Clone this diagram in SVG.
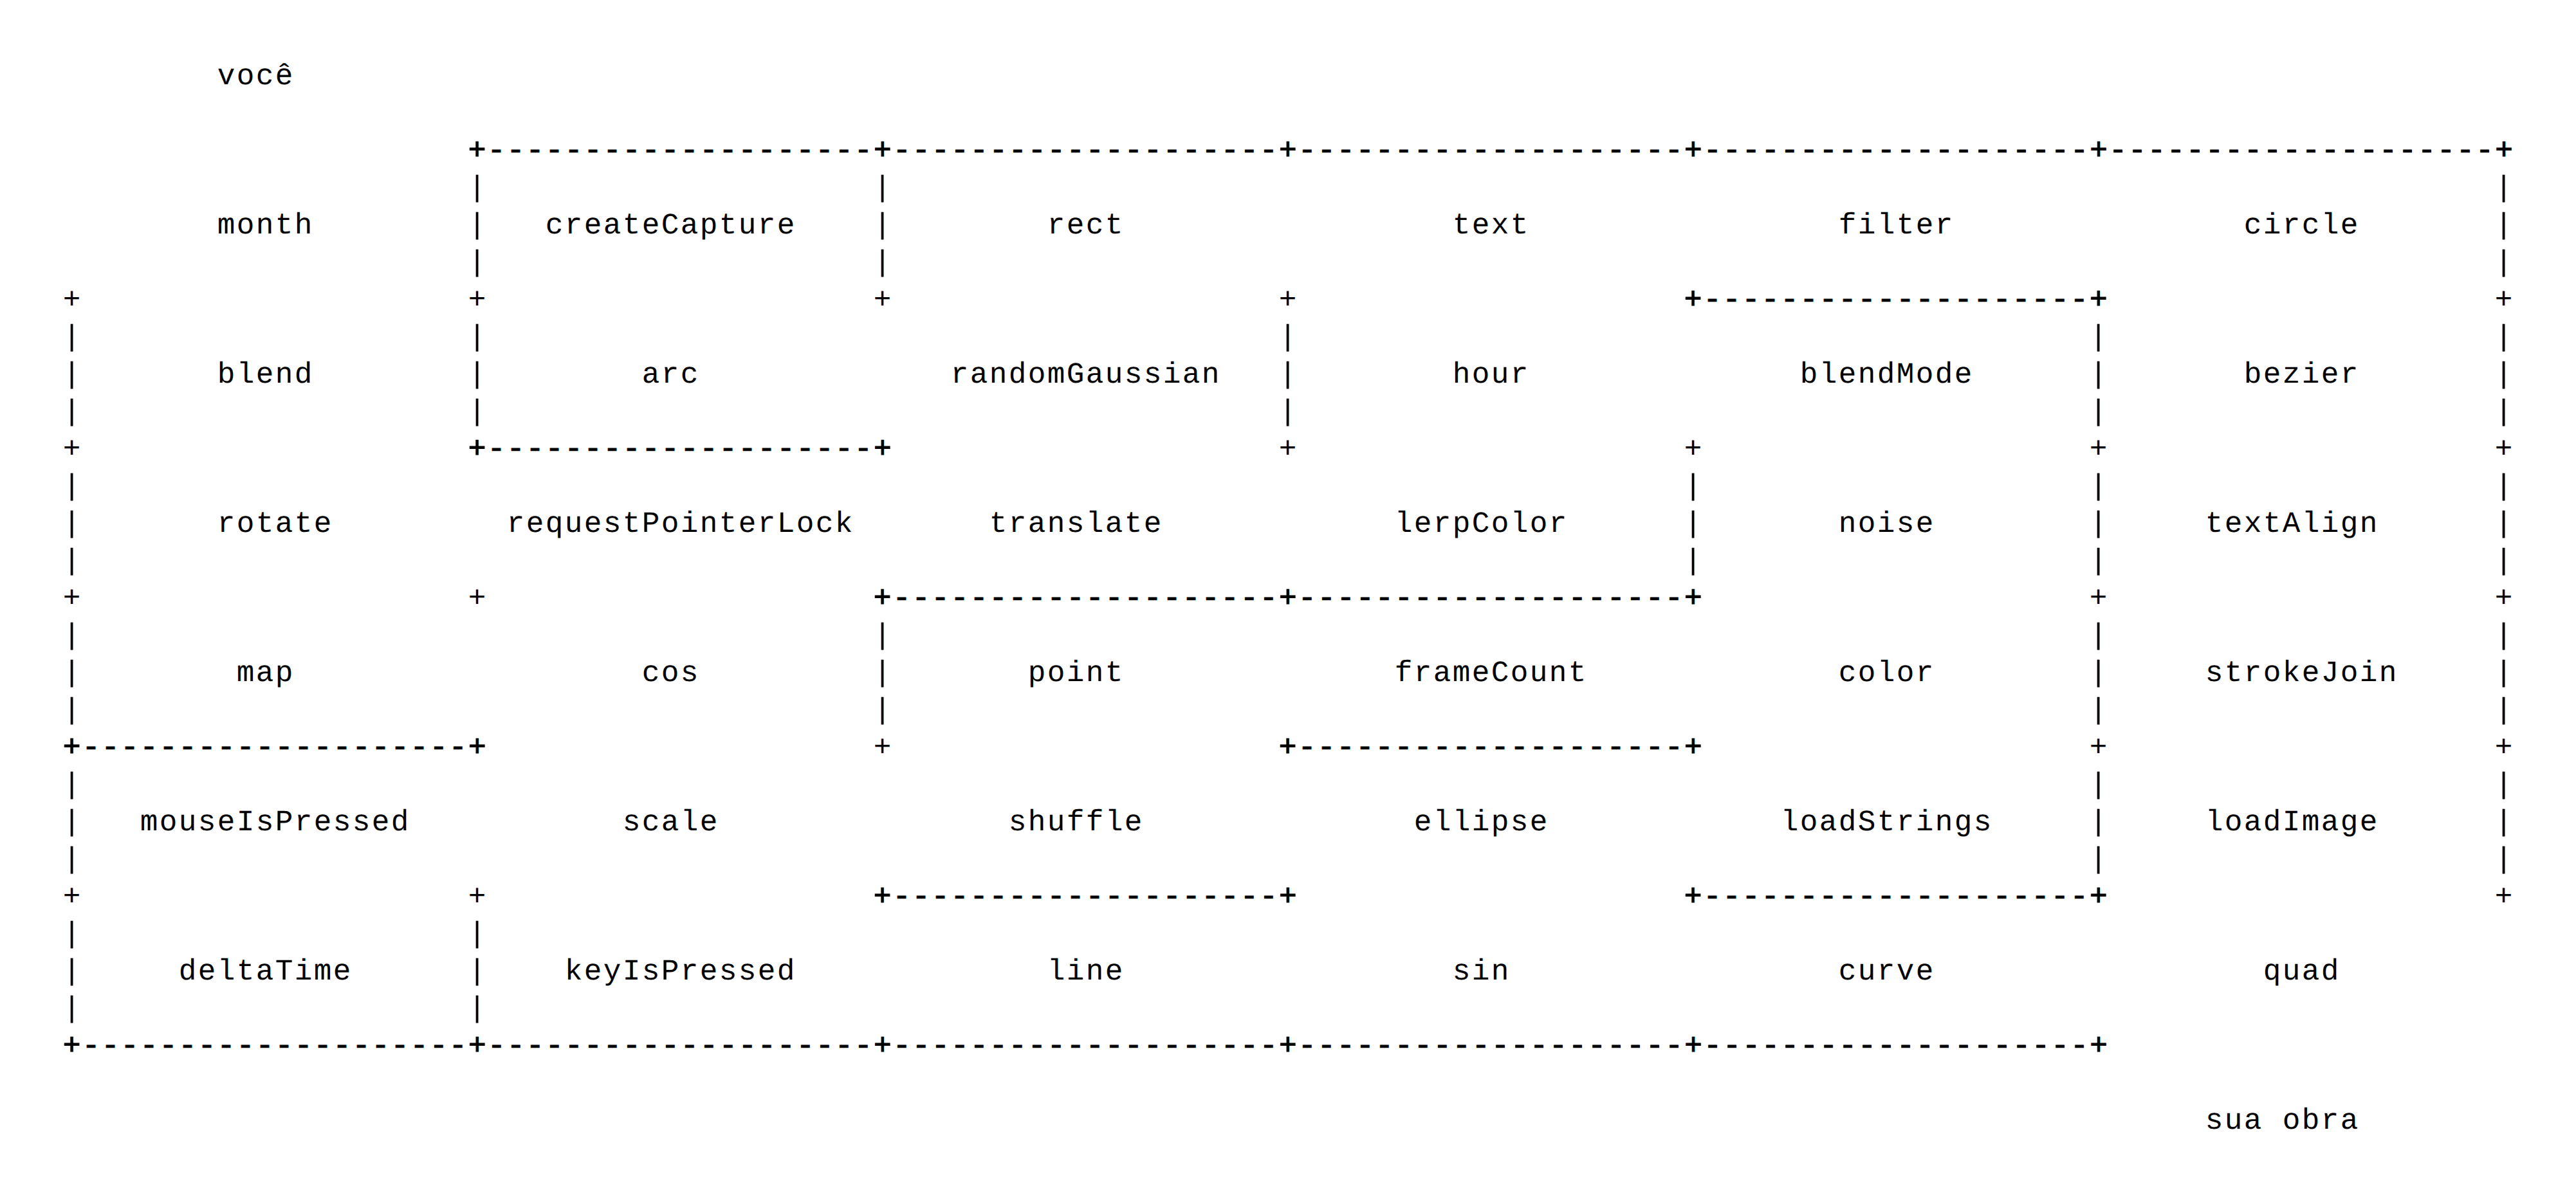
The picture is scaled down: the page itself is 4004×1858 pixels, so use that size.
<svg xmlns="http://www.w3.org/2000/svg" width="4004" height="1858" viewBox="0 0 4004 1858">
<style>
text { font-family: "Liberation Mono", "DejaVu Sans Mono", monospace; font-size: 46px; letter-spacing: 2.4px; fill: #000; text-rendering: geometricPrecision; }
.d { stroke: #000; stroke-width: 1.2px; }
</style>
<rect x="0" y="0" width="4004" height="1858" fill="#fff"/>
<g id="walls" transform="translate(1.2 0)">
<text class="d" x="726.6" y="247">+--------------------+--------------------+--------------------+--------------------+--------------------+</text>
<text x="726.6" y="305">|</text><text x="1356.6" y="305">|</text><text x="3876.6" y="305">|</text>
<text x="726.6" y="363">|</text><text x="1356.6" y="363">|</text><text x="3876.6" y="363">|</text>
<text x="726.6" y="421">|</text><text x="1356.6" y="421">|</text><text x="3876.6" y="421">|</text>
<text x="96.6" y="479">+</text><text x="726.6" y="479">+</text><text x="1356.6" y="479">+</text><text x="1986.6" y="479">+</text><text class="d" x="2616.6" y="479">+--------------------+</text><text x="3876.6" y="479">+</text>
<text x="96.6" y="537">|</text><text x="726.6" y="537">|</text><text x="1986.6" y="537">|</text><text x="3246.6" y="537">|</text><text x="3876.6" y="537">|</text>
<text x="96.6" y="595">|</text><text x="726.6" y="595">|</text><text x="1986.6" y="595">|</text><text x="3246.6" y="595">|</text><text x="3876.6" y="595">|</text>
<text x="96.6" y="653">|</text><text x="726.6" y="653">|</text><text x="1986.6" y="653">|</text><text x="3246.6" y="653">|</text><text x="3876.6" y="653">|</text>
<text x="96.6" y="711">+</text><text class="d" x="726.6" y="711">+--------------------+</text><text x="1986.6" y="711">+</text><text x="2616.6" y="711">+</text><text x="3246.6" y="711">+</text><text x="3876.6" y="711">+</text>
<text x="96.6" y="769">|</text><text x="2616.6" y="769">|</text><text x="3246.6" y="769">|</text><text x="3876.6" y="769">|</text>
<text x="96.6" y="827">|</text><text x="2616.6" y="827">|</text><text x="3246.6" y="827">|</text><text x="3876.6" y="827">|</text>
<text x="96.6" y="885">|</text><text x="2616.6" y="885">|</text><text x="3246.6" y="885">|</text><text x="3876.6" y="885">|</text>
<text x="96.6" y="943">+</text><text x="726.6" y="943">+</text><text class="d" x="1356.6" y="943">+--------------------+--------------------+</text><text x="3246.6" y="943">+</text><text x="3876.6" y="943">+</text>
<text x="96.6" y="1001">|</text><text x="1356.6" y="1001">|</text><text x="3246.6" y="1001">|</text><text x="3876.6" y="1001">|</text>
<text x="96.6" y="1059">|</text><text x="1356.6" y="1059">|</text><text x="3246.6" y="1059">|</text><text x="3876.6" y="1059">|</text>
<text x="96.6" y="1117">|</text><text x="1356.6" y="1117">|</text><text x="3246.6" y="1117">|</text><text x="3876.6" y="1117">|</text>
<text class="d" x="96.6" y="1175">+--------------------+</text><text x="1356.6" y="1175">+</text><text class="d" x="1986.6" y="1175">+--------------------+</text><text x="3246.6" y="1175">+</text><text x="3876.6" y="1175">+</text>
<text x="96.6" y="1233">|</text><text x="3246.6" y="1233">|</text><text x="3876.6" y="1233">|</text>
<text x="96.6" y="1291">|</text><text x="3246.6" y="1291">|</text><text x="3876.6" y="1291">|</text>
<text x="96.6" y="1349">|</text><text x="3246.6" y="1349">|</text><text x="3876.6" y="1349">|</text>
<text x="96.6" y="1407">+</text><text x="726.6" y="1407">+</text><text class="d" x="1356.6" y="1407">+--------------------+</text><text class="d" x="2616.6" y="1407">+--------------------+</text><text x="3876.6" y="1407">+</text>
<text x="96.6" y="1465">|</text><text x="726.6" y="1465">|</text>
<text x="96.6" y="1523">|</text><text x="726.6" y="1523">|</text>
<text x="96.6" y="1581">|</text><text x="726.6" y="1581">|</text>
<text class="d" x="96.6" y="1639">+--------------------+--------------------+--------------------+--------------------+--------------------+</text>
</g>
<g transform="translate(1.2 0)">
<g id="node-voce"><text x="336.6" y="131">você</text></g>
<g id="node-month"><text x="336.6" y="363">month</text></g>
<g id="node-createCapture"><text x="846.6" y="363">createCapture</text></g>
<g id="node-rect"><text x="1626.6" y="363">rect</text></g>
<g id="node-text"><text x="2256.6" y="363">text</text></g>
<g id="node-filter"><text x="2856.6" y="363">filter</text></g>
<g id="node-circle"><text x="3486.6" y="363">circle</text></g>
<g id="node-blend"><text x="336.6" y="595">blend</text></g>
<g id="node-arc"><text x="996.6" y="595">arc</text></g>
<g id="node-randomGaussian"><text x="1476.6" y="595">randomGaussian</text></g>
<g id="node-hour"><text x="2256.6" y="595">hour</text></g>
<g id="node-blendMode"><text x="2796.6" y="595">blendMode</text></g>
<g id="node-bezier"><text x="3486.6" y="595">bezier</text></g>
<g id="node-rotate"><text x="336.6" y="827">rotate</text></g>
<g id="node-requestPointerLock"><text x="786.6" y="827">requestPointerLock</text></g>
<g id="node-translate"><text x="1536.6" y="827">translate</text></g>
<g id="node-lerpColor"><text x="2166.6" y="827">lerpColor</text></g>
<g id="node-noise"><text x="2856.6" y="827">noise</text></g>
<g id="node-textAlign"><text x="3426.6" y="827">textAlign</text></g>
<g id="node-map"><text x="366.6" y="1059">map</text></g>
<g id="node-cos"><text x="996.6" y="1059">cos</text></g>
<g id="node-point"><text x="1596.6" y="1059">point</text></g>
<g id="node-frameCount"><text x="2166.6" y="1059">frameCount</text></g>
<g id="node-color"><text x="2856.6" y="1059">color</text></g>
<g id="node-strokeJoin"><text x="3426.6" y="1059">strokeJoin</text></g>
<g id="node-mouseIsPressed"><text x="216.6" y="1291">mouseIsPressed</text></g>
<g id="node-scale"><text x="966.6" y="1291">scale</text></g>
<g id="node-shuffle"><text x="1566.6" y="1291">shuffle</text></g>
<g id="node-ellipse"><text x="2196.6" y="1291">ellipse</text></g>
<g id="node-loadStrings"><text x="2766.6" y="1291">loadStrings</text></g>
<g id="node-loadImage"><text x="3426.6" y="1291">loadImage</text></g>
<g id="node-deltaTime"><text x="276.6" y="1523">deltaTime</text></g>
<g id="node-keyIsPressed"><text x="876.6" y="1523">keyIsPressed</text></g>
<g id="node-line"><text x="1626.6" y="1523">line</text></g>
<g id="node-sin"><text x="2256.6" y="1523">sin</text></g>
<g id="node-curve"><text x="2856.6" y="1523">curve</text></g>
<g id="node-quad"><text x="3516.6" y="1523">quad</text></g>
<g id="node-sua-obra"><text x="3426.6" y="1755">sua obra</text></g>
</g>
</svg>
